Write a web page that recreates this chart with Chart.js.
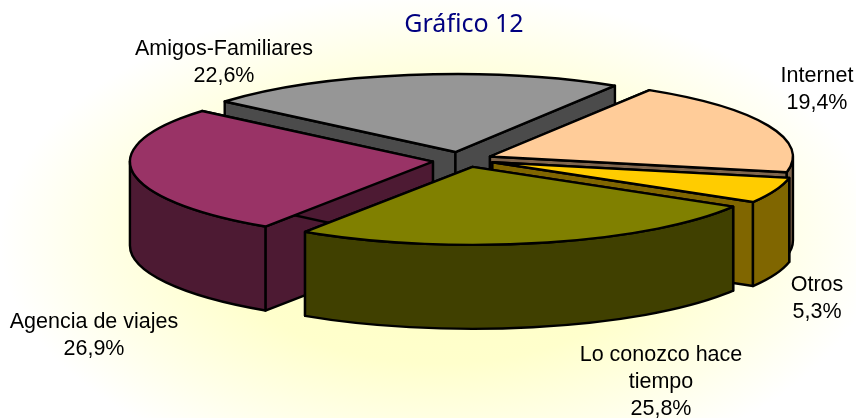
<!DOCTYPE html>
<html>
<head>
<meta charset="utf-8">
<style>html,body{margin:0;padding:0;background:#fff}canvas{display:block}</style>
<script src="https://cdn.jsdelivr.net/npm/chart.js@4"></script>
</head>
<body>
<canvas id="c" width="856" height="418"></canvas>
<script>
// data
const categories = ['Amigos-Familiares', 'Internet', 'Otros', 'Lo conozco hace tiempo', 'Agencia de viajes'];
const shares = [22.6, 19.4, 5.3, 25.8, 26.9];
const shareLabels = ['22,6%', '19,4%', '5,3%', '25,8%', '26,9%'];
const titleText = 'Gráfico 12';

// styles
const topColors = ['#969696', '#ffcc99', '#ffcc00', '#808000', '#993366'];
const wallColors = ['#4b4b4b', '#80664d', '#806600', '#404000', '#4d1a33'];
const labelLines = [['Amigos-Familiares', '22,6%'], ['Internet', '19,4%'], ['Otros', '5,3%'],
                    ['Lo conozco hace', 'tiempo', '25,8%'], ['Agencia de viajes', '26,9%']];
const labelAnchors = [[224, 49], [817, 76], [817, 285], [661, 355], [94, 322]];
const labelGap = 27;
const paintOrder = [0, 1, 4, 2, 3];
const view = { rx: 303, ry: 78, depth: 84, shiftX: -3, shiftY: 0.5 };
const sliceNudgeX = [-1, 2, 4, 5, 1];
const sliceNudgeY = [0, 0, 0, 0, 1];

const pie3d = {
  id: 'pie3d',
  beforeDraw(chart) {
    const ctx = chart.ctx;
    ctx.save();
    ctx.fillStyle = '#ffffff';
    ctx.fillRect(0, 0, 856, 418);
    ctx.translate(440, 240);
    ctx.scale(1, 0.56);
    const g = ctx.createRadialGradient(0, 0, 0, 0, 0, 440);
    g.addColorStop(0, '#ffffc4');
    g.addColorStop(0.5, '#ffffcc');
    g.addColorStop(0.8, '#ffffea');
    g.addColorStop(1, '#ffffff');
    ctx.fillStyle = g;
    ctx.fillRect(-440, -430, 880, 860);
    ctx.restore();
  },
  beforeDatasetsDraw(chart) {
    const ctx = chart.ctx;
    const arcs = chart.getDatasetMeta(0).data;
    ctx.save();
    ctx.lineJoin = 'round';
    ctx.lineWidth = 2.4;
    ctx.strokeStyle = '#000';
    paintOrder.forEach(i => {
      const arc = arcs[i];
      const a0 = arc.startAngle, a1 = arc.endAngle, mid = (a0 + a1) / 2;
      const e = arc.options.offset / arc.outerRadius;
      const cx = arc.x + view.shiftX + e * view.rx * Math.cos(mid) + sliceNudgeX[i];
      const cy = arc.y + view.shiftY + e * view.ry * Math.sin(mid) + sliceNudgeY[i];
      const rim = t => [cx + view.rx * Math.cos(t), cy + view.ry * Math.sin(t)];
      const D = view.depth;
      const face = (fill, build) => {
        ctx.beginPath(); build(); ctx.closePath();
        ctx.fillStyle = fill; ctx.fill(); ctx.stroke();
      };
      // cut faces
      [a0, a1].forEach(t => {
        const p = rim(t);
        face(wallColors[i], () => {
          ctx.moveTo(cx, cy); ctx.lineTo(p[0], p[1]);
          ctx.lineTo(p[0], p[1] + D); ctx.lineTo(cx, cy + D);
        });
      });
      // visible part of the outer wall: the arc's span that faces the viewer
      [[0, Math.PI], [2 * Math.PI, 3 * Math.PI]].forEach(([lo, hi]) => {
        const s = Math.max(a0, lo), t = Math.min(a1, hi);
        if (t <= s) return;
        face(wallColors[i], () => {
          ctx.ellipse(cx, cy, view.rx, view.ry, 0, s, t);
          ctx.ellipse(cx, cy + D, view.rx, view.ry, 0, t, s, true);
        });
      });
      // top face
      face(topColors[i], () => {
        ctx.moveTo(cx, cy);
        ctx.ellipse(cx, cy, view.rx, view.ry, 0, a0, a1);
      });
    });
    ctx.restore();
    return false;
  },
  afterDraw(chart) {
    const ctx = chart.ctx;
    ctx.save();
    ctx.fillStyle = '#000';
    ctx.font = '21.5px "Liberation Sans", Arial, sans-serif';
    ctx.textAlign = 'center';
    ctx.textBaseline = 'middle';
    labelLines.forEach((lines, i) => {
      lines.forEach((line, k) => {
        ctx.fillText(line, labelAnchors[i][0], labelAnchors[i][1] + k * labelGap);
      });
    });
    ctx.restore();
  }
};

new Chart(document.getElementById('c'), {
  type: 'pie',
  data: {
    labels: categories,
    datasets: [{ data: shares, backgroundColor: topColors, borderWidth: 0, offset: 11 }]
  },
  options: {
    responsive: false,
    animation: false,
    rotation: 310.4,
    layout: { padding: { left: 72, right: 0, top: 0, bottom: 140 } },
    plugins: {
      legend: { display: false },
      tooltip: { enabled: false },
      title: {
        display: true,
        text: titleText,
        color: '#000080',
        font: { family: '"Noto Sans", Tahoma, sans-serif', size: 25, weight: 'normal' },
        padding: { top: 10, bottom: 0 }
      }
    }
  },
  plugins: [pie3d]
});
</script>
</body>
</html>
